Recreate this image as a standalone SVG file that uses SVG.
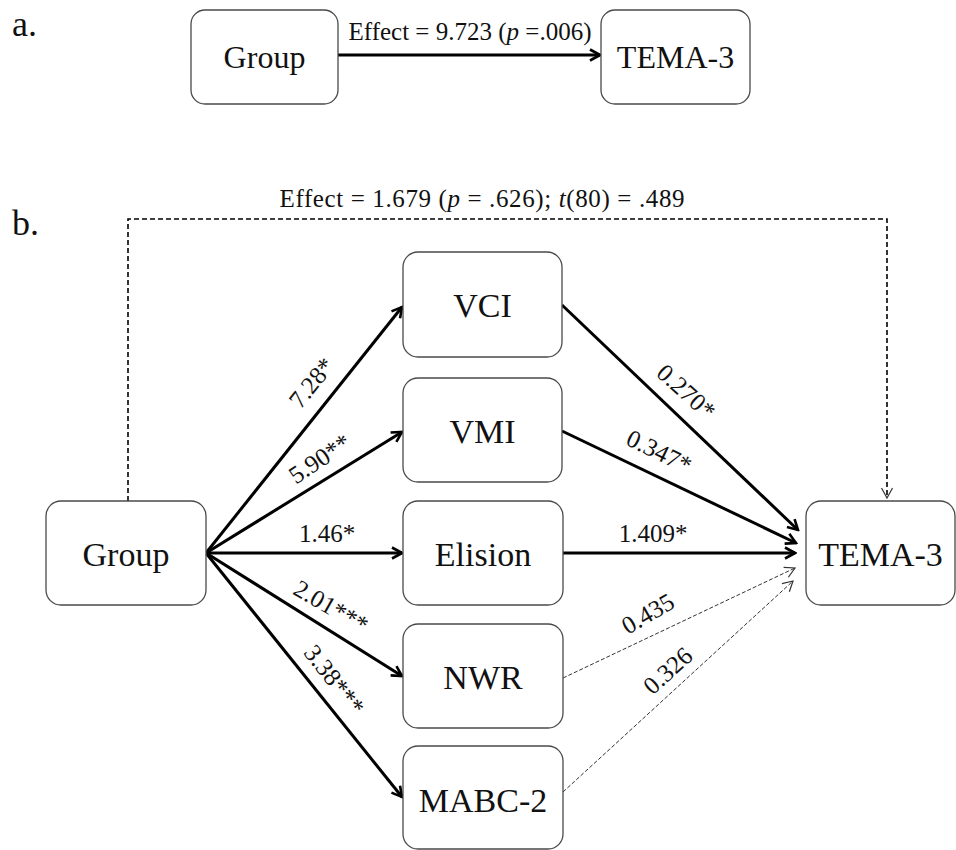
<svg xmlns="http://www.w3.org/2000/svg" width="956" height="850" viewBox="0 0 956 850">
<style>
  text { font-family: "Liberation Serif", "Times New Roman", Times, serif; fill: #111; }
  .box { fill: #fff; stroke: #4a4a4a; stroke-width: 1.3; }
  .node { font-size: 34px; text-anchor: middle; }
  .nodea { font-size: 32px; text-anchor: middle; }
  .panel { font-size: 36px; }
  .lbl { font-size: 25px; text-anchor: middle; }
  .solid { stroke: #000; stroke-width: 3; fill: none; }
  .thin { stroke: #333; stroke-width: 1; fill: none; stroke-dasharray: 4 2; }
  .top { stroke: #000; stroke-width: 1.6; fill: none; stroke-dasharray: 5 3; }
</style>
<defs>
  <marker id="ah" viewBox="0 0 14 14" refX="12" refY="7" markerWidth="14" markerHeight="14" markerUnits="userSpaceOnUse" orient="auto">
    <path d="M2,1.5 L12,7 L2,12.5" fill="none" stroke="#000" stroke-width="2.6"/>
  </marker>
  <marker id="ahthin" viewBox="0 0 14 14" refX="12" refY="7" markerWidth="14" markerHeight="14" markerUnits="userSpaceOnUse" orient="auto">
    <path d="M2,1.5 L12,7 L2,12.5" fill="none" stroke="#333" stroke-width="1.2"/>
  </marker>
</defs>

<text class="panel" x="12" y="36">a.</text>
<text class="panel" x="12" y="235">b.</text>

<g id="connectors">
  <line class="solid" x1="338" y1="55" x2="600" y2="55" marker-end="url(#ah)"/>
  <path class="top" d="M128,501 V219 H887 V498" marker-end="url(#ahthin)"/>
  <line class="solid" x1="206" y1="553" x2="402" y2="307" marker-end="url(#ah)"/>
  <line class="solid" x1="206" y1="553" x2="402" y2="432" marker-end="url(#ah)"/>
  <line class="solid" x1="206" y1="553" x2="402" y2="553" marker-end="url(#ah)"/>
  <line class="solid" x1="206" y1="553" x2="402" y2="676" marker-end="url(#ah)"/>
  <line class="solid" x1="206" y1="553" x2="402" y2="797" marker-end="url(#ah)"/>
  <line class="solid" x1="562" y1="305" x2="798" y2="530" marker-end="url(#ah)"/>
  <line class="solid" x1="562" y1="431" x2="796" y2="543" marker-end="url(#ah)"/>
  <line class="solid" x1="563" y1="553" x2="795" y2="553" marker-end="url(#ah)"/>
  <line class="thin" x1="563" y1="678" x2="795" y2="568" marker-end="url(#ahthin)"/>
  <line class="thin" x1="563" y1="792" x2="793" y2="581" marker-end="url(#ahthin)"/>

  <text class="lbl" x="470" y="40" font-size="24">Effect = 9.723 (<tspan font-style="italic">p</tspan> =.006)</text>
  <text class="lbl" x="482" y="207" font-size="27" textLength="405" lengthAdjust="spacing">Effect = 1.679 (<tspan font-style="italic">p</tspan> = .626); <tspan font-style="italic">t</tspan>(80) = .489</text>
  <text class="lbl" transform="translate(312,383) rotate(-51)" x="0" y="8">7.28*</text>
  <text class="lbl" transform="translate(320,459) rotate(-34)" x="0" y="8">5.90**</text>
  <text class="lbl" x="327" y="542">1.46*</text>
  <text class="lbl" transform="translate(331,607) rotate(30)" x="0" y="8">2.01***</text>
  <text class="lbl" transform="translate(334,680) rotate(52)" x="0" y="8">3.38***</text>
  <text class="lbl" transform="translate(686,392) rotate(42)" x="0" y="8">0.270*</text>
  <text class="lbl" transform="translate(659,452) rotate(26)" x="0" y="8">0.347*</text>
  <text class="lbl" x="653" y="542">1.409*</text>
  <text class="lbl" transform="translate(648,614) rotate(-30)" x="0" y="8">0.435</text>
  <text class="lbl" transform="translate(668,671) rotate(-42)" x="0" y="8">0.326</text>
</g>

<g id="groupA">
  <rect class="box" x="191" y="10" width="147" height="94" rx="14"/>
  <text class="nodea" x="264.5" y="68">Group</text>
</g>
<g id="temaA">
  <rect class="box" x="601" y="10" width="149" height="94" rx="14"/>
  <text class="nodea" x="675.5" y="68">TEMA-3</text>
</g>

<g id="groupB">
  <rect class="box" x="46" y="501" width="160" height="104" rx="15"/>
  <text class="node" x="126" y="566">Group</text>
</g>
<g id="vci">
  <rect class="box" x="403" y="252" width="159" height="105" rx="15"/>
  <text class="node" x="482.5" y="317">VCI</text>
</g>
<g id="vmi">
  <rect class="box" x="403" y="378" width="159" height="104" rx="15"/>
  <text class="node" x="482.5" y="443">VMI</text>
</g>
<g id="elision">
  <rect class="box" x="403" y="501" width="160" height="104" rx="15"/>
  <text class="node" x="483" y="566">Elision</text>
</g>
<g id="nwr">
  <rect class="box" x="403" y="624" width="160" height="104" rx="15"/>
  <text class="node" x="483" y="689">NWR</text>
</g>
<g id="mabc">
  <rect class="box" x="403" y="746" width="160" height="103" rx="15"/>
  <text class="node" x="483" y="812">MABC-2</text>
</g>
<g id="temaB">
  <rect class="box" x="806" y="501" width="149" height="104" rx="15"/>
  <text class="node" x="880.5" y="566">TEMA-3</text>
</g>
</svg>
